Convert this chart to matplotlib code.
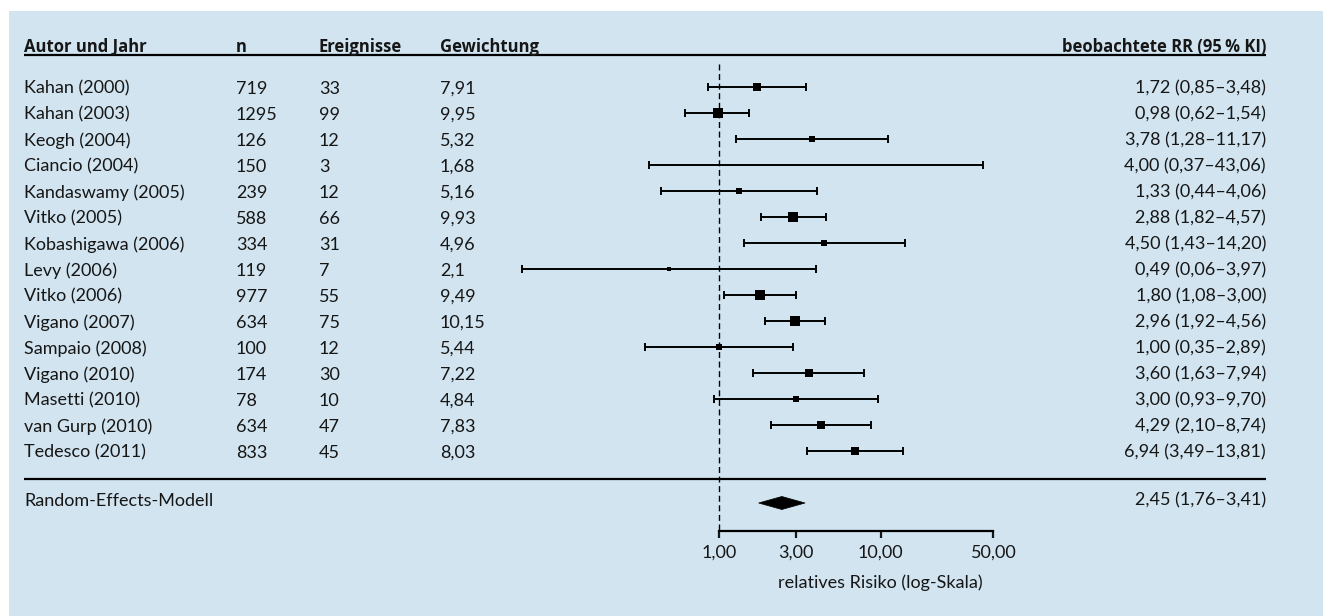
import numpy as np
import matplotlib
matplotlib.use("Agg")
import matplotlib.pyplot as plt
from matplotlib.patches import Rectangle, Polygon
from matplotlib.ticker import NullLocator

# Data
studies = ["Kahan (2000)", "Kahan (2003)", "Keogh (2004)", "Ciancio (2004)",
           "Kandaswamy (2005)", "Vitko (2005)", "Kobashigawa (2006)", "Levy (2006)",
           "Vitko (2006)", "Vigano (2007)", "Sampaio (2008)", "Vigano (2010)",
           "Masetti (2010)", "van Gurp (2010)", "Tedesco (2011)"]
n = [719, 1295, 126, 150, 239, 588, 334, 119, 977, 634, 100, 174, 78, 634, 833]
events = [33, 99, 12, 3, 12, 66, 31, 7, 55, 75, 12, 30, 10, 47, 45]
weights = [7.91, 9.95, 5.32, 1.68, 5.16, 9.93, 4.96, 2.1, 9.49, 10.15, 5.44, 7.22, 4.84, 7.83, 8.03]
rr = [1.72, 0.98, 3.78, 4.00, 1.33, 2.88, 4.50, 0.49, 1.80, 2.96, 1.00, 3.60, 3.00, 4.29, 6.94]
rr_lo = [0.85, 0.62, 1.28, 0.37, 0.44, 1.82, 1.43, 0.06, 1.08, 1.92, 0.35, 1.63, 0.93, 2.10, 3.49]
rr_hi = [3.48, 1.54, 11.17, 43.06, 4.06, 4.57, 14.20, 3.97, 3.00, 4.56, 2.89, 7.94, 9.70, 8.74, 13.81]

pooled = 2.45
pooled_lo = 1.76
pooled_hi = 3.41

headers = ["Autor und Jahr", "n", "Ereignisse", "Gewichtung", "beobachtete RR (95\u2009% KI)"]
xticks = [1, 3, 10, 50]
xlabel = "relatives Risiko (log-Skala)"
model_label = "Random-Effects-Modell"

# Layout (pixels of the 1323 x 616 image)
W, H = 1323, 616
BG = "#d1e4f0"
INK = "#161616"
FONT = ["Lato", "DejaVu Sans"]
HEAD_FONT = ["Open Sans", "DejaVu Sans"]
FS = 13
px_one = 719          # x pixel of RR = 1
px_dec = 161.5        # pixels per decade
row0, row_h = 87, 26  # y pixel of first row, row height
x_right = 1266        # right edge of the RR column


def fx(px):
    return px / W


def row(py):
    return (py - row0) / row_h


def de(v, nd=2):
    return f"{v:.{nd}f}".replace(".", ",")


plt.rcParams["font.family"] = FONT
fig = plt.figure(figsize=(W / 100, H / 100), dpi=100)
fig.patch.set_facecolor("white")
fig.patches.append(Rectangle((fx(9), 0), 1 - fx(9), 1 - 11 / H, transform=fig.transFigure,
                             facecolor=BG, edgecolor="none", zorder=-5))

ax = fig.add_axes([0, 0, 1, 1])
ax.patch.set_alpha(0)
ax.set_xscale("log")
ax.set_xlim(10 ** (-px_one / px_dec), 10 ** ((W - px_one) / px_dec))
ax.set_ylim(row(H), row(0))

# Header and separator lines
tr = ax.get_yaxis_transform()
ax.hlines(row(55), fx(24), fx(x_right), transform=tr, color="black", lw=1.6)
ax.hlines(row(479), fx(24), fx(x_right), transform=tr, color="black", lw=1.6)

# Column headers (bold)
col_x = [24, 236, 319, 440]
for x, h in zip(col_x, headers[:4]):
    ax.text(fx(x), row(52), h, transform=tr, ha="left", va="baseline", family=HEAD_FONT,
            fontsize=12, fontweight="bold", color=INK)
ax.text(fx(x_right), row(52), headers[4], transform=tr, ha="right", va="baseline", family=HEAD_FONT,
        fontsize=12, fontweight="bold", color=INK)

# Table columns
ys = np.arange(len(studies))
for i in ys:
    ax.text(fx(24), i, studies[i], transform=tr, ha="left", va="center_baseline", fontsize=FS, color=INK)
    ax.text(fx(236), i, str(n[i]), transform=tr, ha="left", va="center_baseline", fontsize=FS, color=INK)
    ax.text(fx(319), i, str(events[i]), transform=tr, ha="left", va="center_baseline", fontsize=FS, color=INK)
    ax.text(fx(440), i, str(weights[i]).replace(".", ","), transform=tr, ha="left",
            va="center_baseline", fontsize=FS, color=INK)
    ax.text(fx(x_right), i, f"{de(rr[i])} ({de(rr_lo[i])}\u2013{de(rr_hi[i])})", transform=tr,
            ha="right", va="center_baseline", fontsize=FS, color=INK)

# Reference line at RR = 1
ax.vlines(1, row(64), row(531), color="black", lw=1, linestyles=(0, (4.3, 2.6)))

# Confidence intervals and weighted boxes
rr_a = np.array(rr)
xerr = [rr_a - np.array(rr_lo), np.array(rr_hi) - rr_a]
ax.errorbar(rr_a, ys, xerr=xerr, fmt="none", ecolor="black", elinewidth=1.4,
            capsize=2.9, capthick=1.4)
for i in ys:
    side = (1.43 + 0.93 * weights[i]) * 0.72
    ax.plot(rr[i], i, marker="s", ms=side, color="black", mec="black", mew=0, ls="none")

# Pooled estimate
y_d = row(503)
dh = 6.5 / row_h
ax.add_patch(Polygon([(pooled_lo, y_d), (pooled, y_d - dh), (pooled_hi, y_d), (pooled, y_d + dh)],
                     closed=True, facecolor="black", edgecolor="black", lw=0.5))
ax.text(fx(24), row(499), model_label, transform=tr, ha="left", va="center_baseline", fontsize=FS, color=INK)
ax.text(fx(x_right), row(499), f"{de(pooled)} ({de(pooled_lo)}\u2013{de(pooled_hi)})", transform=tr,
        ha="right", va="center_baseline", fontsize=FS, color=INK)

# x axis
for s in ["top", "left", "right"]:
    ax.spines[s].set_visible(False)
ax.spines["bottom"].set_position(("data", row(531)))
ax.spines["bottom"].set_bounds(xticks[0], xticks[-1])
ax.spines["bottom"].set_linewidth(1.6)
ax.set_xticks(xticks)
ax.set_xticklabels([de(t) for t in xticks])
ax.xaxis.set_minor_locator(NullLocator())
ax.tick_params(axis="x", direction="out", length=5, width=1.6, pad=5, labelsize=FS, colors=INK)
ax.set_yticks([])
ax.text(10 ** ((880 - px_one) / px_dec), row(581), xlabel, ha="center", va="center_baseline",
        fontsize=FS, color=INK)

fig.savefig("out.png", dpi=100, facecolor=fig.get_facecolor())
